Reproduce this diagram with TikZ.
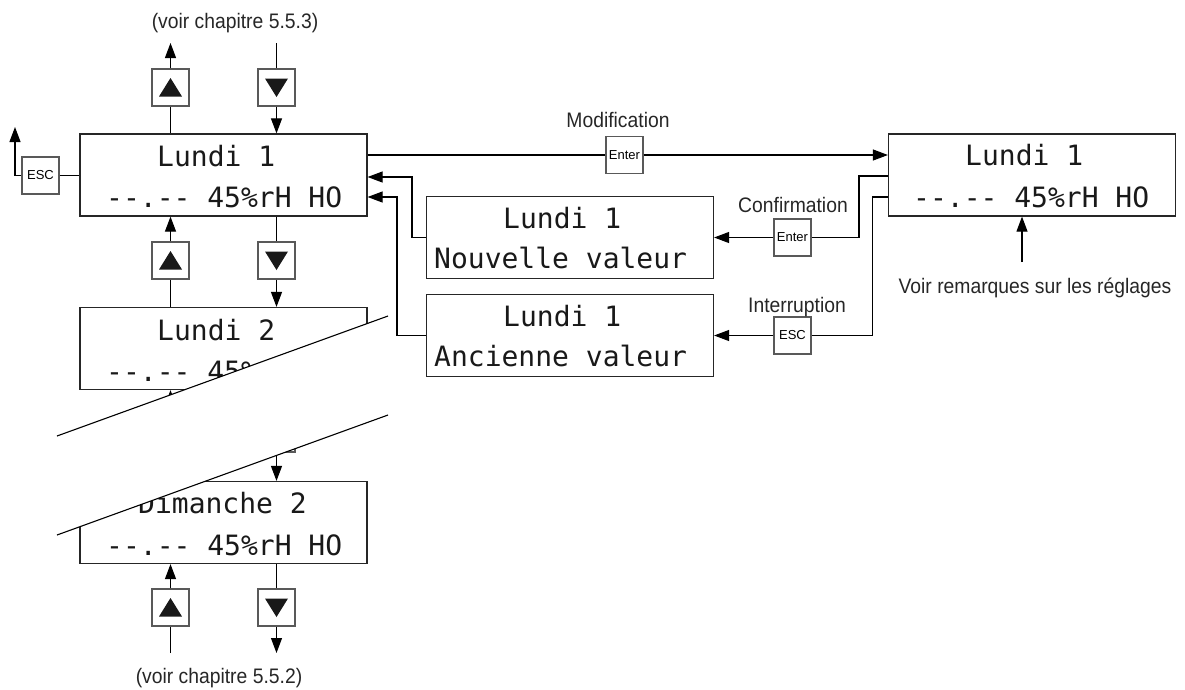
\documentclass[tikz,border=0pt]{standalone}
\usepackage{fontspec}
\newfontfamily\monofnt[Ligatures=TeXOff]{DejaVu Sans Mono}
\newfontfamily\labfnt[FakeStretch=0.92]{Liberation Sans}
\newfontfamily\keyfnt{Liberation Sans}
\usetikzlibrary{arrows.meta,calc}
\newcommand\uptri[1]{\fill[black!90] ($(#1)+(0,-9.5)$) -- ($(#1)+(-11.5,9)$) -- ($(#1)+(11.5,9)$) -- cycle;}
\newcommand\dntri[1]{\fill[black!90] ($(#1)+(0,9.5)$) -- ($(#1)+(-11.5,-9)$) -- ($(#1)+(11.5,-9)$) -- cycle;}
\begin{document}
\begin{tikzpicture}[x=1pt,y=-1pt,
  lcd/.style={draw=black!85,line width=1.2pt,minimum width=287pt,minimum height=82pt,inner sep=0pt},
  lcdtxt/.style={font=\monofnt\fontsize{28}{28}\selectfont,inner sep=0pt,anchor=base west,text=black!90},
  btn/.style={draw=black!65,line width=1.1pt,minimum width=37pt,minimum height=37pt,inner sep=0pt},
  keytxt/.style={font=\keyfnt\fontsize{13}{13}\selectfont},
  lab/.style={font=\labfnt\fontsize{21}{21}\selectfont,inner sep=0pt,anchor=base,text=black!85},
  ln/.style={line width=1.1pt},
  arr/.style={ln,-{Triangle[length=15pt,width=11pt]}}]
\useasboundingbox (0,0) rectangle (1185,689);

% LCD boxes
\node[lcd] (L1) at (223.5,175) {};
\node[lcd] (L2) at (223.5,348.5) {};
\node[lcd] (DM) at (223.5,522.5) {};
\node[lcd] (N) at (570,237.5) {};
\node[lcd] (A) at (570,335.5) {};
\node[lcd] (R) at (1032,175) {};

% LCD texts
\node[lcdtxt] (L1a) at (157,166) {Lundi 1};
\node[lcdtxt] (L1b) at (106,207) {--.-- 45\%rH HO};
\node[lcdtxt] (L2a) at (157,340) {Lundi 2};
\node[lcdtxt] (L2b) at (106,381) {--.-- 45\%rH HO};
\node[lcdtxt] (DMa) at (138,513) {Dimanche 2};
\node[lcdtxt] (DMb) at (106,555) {--.-- 45\%rH HO};
\node[lcdtxt] (Na) at (503,228) {Lundi 1};
\node[lcdtxt] (Nb) at (434,268) {Nouvelle valeur};
\node[lcdtxt] (Aa) at (503,326) {Lundi 1};
\node[lcdtxt] (Ab) at (434,366) {Ancienne valeur};
\node[lcdtxt] (Ra) at (965,165) {Lundi 1};
\node[lcdtxt] (Rb) at (913,207) {--.-- 45\%rH HO};

% arrow buttons
\node[btn] (U0) at (170.5,87.5) {};
\node[btn] (D0) at (276.5,87.5) {};
\node[btn] (U1) at (170.5,260.5) {};
\node[btn] (D1) at (276.5,260.5) {};
\node[btn] (U2) at (170.5,433.5) {};
\node[btn] (D2) at (276.5,433.5) {};
\node[btn] (U3) at (170.5,607.5) {};
\node[btn] (D3) at (276.5,607.5) {};
\uptri{U0} \dntri{D0}
\uptri{U1} \dntri{D1}
\uptri{U2} \dntri{D2}
\uptri{U3} \dntri{D3}

% key buttons
\node[btn,keytxt] (E0) at (40.5,175.5) {ESC};
\node[btn,keytxt] (EN1) at (624.5,155) {Enter};
\node[btn,keytxt] (EN2) at (792.5,237.5) {Enter};
\node[btn,keytxt] (ES2) at (792.5,335.5) {ESC};

% vertical connectors
\coordinate (U0t) at (170.5,43);
\coordinate (D0t) at (276.5,43);
\draw[arr] (U0.north) -- (U0t);
\draw[ln] (U0.south) -- (U0.south |- L1.north);
\draw[ln] (D0t) -- (D0.north);
\draw[arr] (D0.south) -- (D0.south |- L1.north);

\draw[arr] (U1.north) -- (U1.north |- L1.south);
\draw[ln] (U1.south) -- (U1.south |- L2.north);
\draw[ln] (D1.north |- L1.south) -- (D1.north);
\draw[arr] (D1.south) -- (D1.south |- L2.north);

\draw[arr] (U2.north) -- (U2.north |- L2.south);
\draw[ln] (U2.south) -- (U2.south |- DM.north);
\draw[ln] (D2.north |- L2.south) -- (D2.north);
\draw[arr] (D2.south) -- (D2.south |- DM.north);

\coordinate (U3b) at (170.5,653);
\coordinate (D3b) at (276.5,653);
\draw[arr] (U3.north) -- (U3.north |- DM.south);
\draw[ln] (U3b) -- (U3.south);
\draw[ln] (D3.north |- DM.south) -- (D3.north);
\draw[arr] (D3.south) -- (D3b);

% ESC exit
\coordinate (Et) at (15,127);
\draw[arr] (E0.west) -| (Et);
\draw[ln] (E0.east) -- (E0.east -| L1.west);

% Modification
\draw[ln] (EN1.west -| L1.east) -- (EN1.west);
\draw[arr] (EN1.east) -- (EN1.east -| R.west);

% returns to L1
\coordinate (nt) at (412,177);
\coordinate (at) at (397,197);
\draw[arr] (N.west) -| (nt) -- (nt -| L1.east);
\draw[arr] (A.west) -| (at) -- (at -| L1.east);

% from R
\coordinate (rn) at (859,176);
\coordinate (ra) at (872.5,197);
\draw[ln] (rn -| R.west) -- (rn) |- (EN2.east);
\draw[arr] (EN2.west) -- (N.east);
\draw[ln] (ra -| R.west) -- (ra) |- (ES2.east);
\draw[arr] (ES2.west) -- (A.east);

\coordinate (vr) at (1022,262);
\draw[arr] (vr) -- (vr |- R.south);

% labels
\node[lab] (t1) at (235,28) {(voir chapitre 5.5.3)};
\node[lab] (t2) at (219,683) {(voir chapitre 5.5.2)};
\node[lab] (t3) at (618,127) {Modification};
\node[lab] (t4) at (793,212) {Confirmation};
\node[lab] (t5) at (797,312) {Interruption};
\node[lab] (t6) at (1035,293) {Voir remarques sur les réglages};

% break mask
\fill[white] (57,436) -- (388,316) -- (388,415) -- (57,535) -- cycle;
\draw[ln] (57,436) -- (388,316);
\draw[ln] (57,535) -- (388,415);
\end{tikzpicture}
\end{document}
